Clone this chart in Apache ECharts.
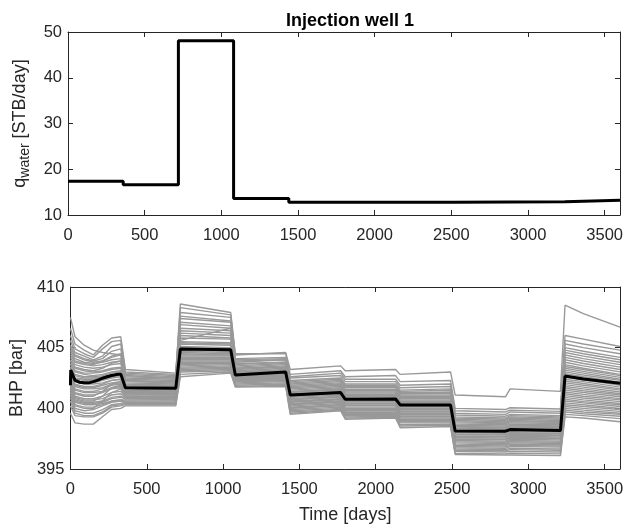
<!DOCTYPE html>
<html>
<head>
<meta charset="utf-8">
<script src="https://cdn.jsdelivr.net/npm/echarts@6.0.0/dist/echarts.min.js"></script>
<style>
  html, body { margin: 0; padding: 0; background: #ffffff; }
  #chart { width: 626px; height: 529px; }
</style>
</head>
<body>
<div id="chart"></div>
<script>
// ---- Water injection rate, one value per 360-day control period ----
const rateDays = [0, 360, 720, 1080, 1440, 1800, 2160, 2520, 2880, 3240, 3600];
const rateValues = [17.4, 16.6, 48.1, 13.6, 12.8, 12.8, 12.8, 12.85, 12.9, 13.25, 13.25];

// ---- Ensemble mean bottom-hole pressure ----
const meanDays = [0, 2, 30, 60, 90, 120, 150, 180, 210, 240, 270, 300, 330, 360, 690, 720, 1050,
  1080, 1410, 1440, 1770, 1800, 2130, 2160, 2490, 2520, 2850, 2880, 3210, 3240, 3360, 3600];
const meanBhp = [401.9, 403.15, 402.3, 402.15, 402.1, 402.1, 402.2, 402.32, 402.48, 402.6, 402.7, 402.78, 402.82,
  401.7, 401.65, 404.88, 404.83, 402.75, 403.0, 401.1, 401.3, 400.75, 400.77, 400.28, 400.28,
  398.14, 398.12, 398.25, 398.17, 402.66, 402.42, 402.06];

// ---- Ensemble members (one row per realisation) for each control period ----
const year1Days = [0, 30, 90, 150, 210, 270, 330];
const year1 = [
  [407.5, 405.9, 405.2, 404.8, 404.6, 404.5, 404.4], [406.6, 405.3, 404.8, 404.4, 405.2, 405.8, 405.9],
  [406.0, 404.9, 404.5, 404.2, 404.9, 405.5, 405.6], [405.6, 404.6, 404.3, 404.0, 404.3, 405.1, 405.3],
  [405.2, 404.4, 404.1, 403.9, 404.1, 404.7, 404.9], [405.0, 404.3, 404.0, 403.8, 403.9, 404.2, 404.4],
  [404.8, 404.1, 403.8, 403.7, 403.8, 404.0, 404.1], [404.6, 403.9, 403.7, 403.6, 403.9, 404.3, 404.5],
  [404.4, 403.8, 403.6, 403.5, 403.6, 403.8, 403.9], [404.2, 403.6, 403.4, 403.3, 403.4, 403.6, 403.7],
  [404.0, 403.4, 403.2, 403.1, 403.3, 403.7, 403.9], [403.9, 403.3, 403.1, 403.0, 403.1, 403.3, 403.4],
  [403.7, 403.1, 402.9, 402.9, 403.0, 403.2, 403.3], [403.6, 403.0, 402.8, 402.7, 402.8, 403.0, 403.1],
  [403.4, 402.8, 402.6, 402.6, 402.7, 402.9, 403.0], [403.3, 402.7, 402.5, 402.5, 402.6, 402.8, 402.9],
  [403.2, 402.5, 402.4, 402.4, 402.5, 402.7, 402.8], [403.1, 402.4, 402.3, 402.3, 402.4, 402.6, 402.7],
  [403.0, 402.3, 402.1, 402.1, 402.3, 402.5, 402.6], [402.9, 402.2, 402.0, 402.0, 402.1, 402.3, 402.4],
  [402.8, 402.0, 401.8, 401.8, 402.0, 402.3, 402.4], [402.7, 401.9, 401.7, 401.7, 401.9, 402.1, 402.2],
  [402.6, 401.8, 401.6, 401.6, 401.7, 402.0, 402.1], [402.5, 401.6, 401.4, 401.4, 401.6, 401.9, 402.0],
  [402.4, 401.5, 401.3, 401.3, 401.4, 401.7, 401.8], [402.3, 401.3, 401.1, 401.1, 401.3, 401.6, 401.7],
  [402.2, 401.2, 401.0, 401.0, 401.4, 402.0, 402.2], [402.1, 401.0, 400.8, 400.8, 401.0, 401.3, 401.4],
  [402.0, 400.9, 400.7, 400.7, 400.8, 401.1, 401.2], [401.9, 400.8, 400.6, 400.6, 401.0, 401.7, 401.9],
  [401.8, 400.7, 400.5, 400.5, 400.6, 400.9, 401.0], [401.7, 400.6, 400.4, 400.4, 400.5, 400.8, 400.9],
  [401.6, 400.5, 400.3, 400.3, 400.4, 400.6, 400.7], [401.4, 400.3, 400.1, 400.1, 400.3, 400.6, 400.7],
  [401.3, 400.2, 400.0, 400.0, 400.6, 401.3, 401.6], [401.1, 400.0, 399.8, 399.9, 400.2, 400.5, 400.6],
  [400.9, 399.8, 399.6, 399.6, 399.9, 400.3, 400.4], [400.6, 399.6, 399.4, 399.4, 399.7, 400.2, 400.3],
  [400.2, 399.4, 399.3, 399.3, 399.6, 400.1, 400.2], [399.6, 398.8, 398.7, 398.7, 399.3, 399.9, 400.0]
];
const year2Days = [360, 690];
const year2 = [
  [402.9, 402.7], [403.2, 402.9], [403.0, 402.8], [402.8, 402.6], [402.6, 402.5], [402.7, 402.5],
  [402.5, 402.4], [402.4, 402.3], [402.3, 402.2], [402.2, 402.1], [402.3, 402.1], [402.1, 402.0],
  [402.0, 401.9], [401.9, 401.9], [401.9, 401.8], [401.8, 401.7], [401.7, 401.7], [401.7, 401.6],
  [401.6, 401.5], [401.5, 401.5], [401.5, 401.4], [401.4, 401.4], [401.3, 401.3], [401.3, 401.2],
  [401.2, 401.2], [401.1, 401.1], [401.4, 401.3], [401.0, 401.0], [400.9, 400.9], [401.2, 401.1],
  [400.8, 400.8], [400.8, 400.7], [400.7, 400.7], [400.6, 400.6], [401.0, 400.9], [400.5, 400.5],
  [400.5, 400.4], [400.4, 400.4], [400.3, 400.3], [400.2, 400.2]
];
const year3Days = [720, 1050];
const year3 = [
  [408.6, 407.9], [408.3, 407.7], [407.9, 407.5], [407.6, 407.2], [407.4, 407.1], [407.1, 406.8],
  [406.9, 406.6], [406.6, 406.4], [406.4, 406.2], [406.2, 406.0], [406.0, 405.8], [405.8, 405.7],
  [405.6, 406.6], [405.5, 405.4], [405.4, 405.3], [405.3, 405.2], [405.1, 405.0], [405.0, 404.9],
  [404.9, 404.8], [404.8, 404.7], [404.7, 404.6], [404.6, 404.5], [404.5, 404.4], [404.4, 404.4],
  [404.3, 404.3], [404.2, 404.2], [404.1, 404.1], [404.0, 404.0], [403.9, 403.9], [403.8, 403.8],
  [403.7, 403.7], [403.6, 403.7], [403.5, 403.6], [403.4, 403.5], [403.3, 403.4], [403.2, 403.3],
  [403.1, 403.2], [403.0, 403.1], [402.8, 403.0], [402.6, 402.9]
];
const year4Days = [1080, 1410];
const year4 = [
  [404.4, 404.6], [404.5, 404.5], [404.1, 404.2], [404.0, 404.1], [403.8, 404.0], [403.9, 404.0],
  [403.6, 403.8], [403.7, 403.8], [403.5, 403.7], [403.4, 403.6], [403.3, 403.5], [403.3, 403.4],
  [403.2, 403.4], [403.1, 403.3], [403.0, 403.2], [403.0, 403.1], [402.9, 403.1], [402.9, 403.0],
  [402.8, 403.0], [402.8, 402.9], [402.7, 402.9], [402.7, 402.8], [402.6, 402.8], [402.6, 402.7],
  [402.5, 402.7], [402.5, 402.6], [402.6, 402.7], [402.4, 402.6], [402.4, 402.5], [402.5, 402.6],
  [402.3, 402.4], [402.3, 402.4], [402.2, 402.3], [402.2, 402.3], [402.4, 402.5], [402.1, 402.2],
  [402.0, 402.1], [401.9, 402.0], [401.8, 401.9], [401.75, 401.8]
];
const year5Days = [1440, 1770];
const year5 = [
  [403.2, 403.5], [402.8, 403.1], [402.6, 402.9], [402.5, 402.7], [402.3, 402.5], [402.2, 402.4],
  [402.1, 402.3], [402.0, 402.2], [401.9, 402.1], [401.8, 402.0], [401.7, 401.9], [401.6, 401.8],
  [401.5, 401.7], [401.4, 401.6], [401.35, 401.55], [401.3, 401.5], [401.2, 401.4], [401.15, 401.35],
  [401.1, 401.3], [401.0, 401.2], [400.95, 401.15], [400.9, 401.1], [400.8, 401.0], [400.75, 400.95],
  [400.7, 400.9], [400.6, 400.8], [400.55, 400.75], [400.5, 400.7], [400.4, 400.6], [400.35, 400.55],
  [400.3, 400.5], [400.2, 400.4], [400.1, 400.3], [400.05, 400.25], [400.0, 400.2], [399.9, 400.1],
  [399.8, 400.0], [399.7, 399.9], [399.6, 399.85], [399.5, 399.8]
];
const year6Days = [1800, 2130];
const year6 = [
  [403.1, 403.2], [402.6, 402.7], [402.4, 402.4], [402.2, 402.2], [402.0, 402.0], [401.9, 401.9],
  [401.8, 401.8], [401.7, 401.7], [401.55, 401.55], [401.45, 401.45], [401.35, 401.35], [401.25, 401.25],
  [401.15, 401.15], [401.05, 401.05], [401.0, 401.0], [400.95, 400.95], [400.85, 400.85], [400.8, 400.8],
  [400.75, 400.75], [400.65, 400.65], [400.6, 400.6], [400.55, 400.55], [400.45, 400.45], [400.4, 400.4],
  [400.35, 400.35], [400.25, 400.25], [400.2, 400.2], [400.1, 400.1], [400.0, 400.0], [399.95, 399.95],
  [399.9, 399.9], [399.8, 399.8], [399.7, 399.7], [399.65, 399.65], [399.6, 399.6], [399.5, 399.5],
  [399.4, 399.45], [399.3, 399.35], [399.2, 399.25], [399.1, 399.2]
];
const year7Days = [2160, 2490];
const year7 = [
  [402.8, 403.0], [402.2, 402.3], [401.9, 402.0], [401.7, 401.8], [401.5, 401.6], [401.4, 401.5],
  [401.3, 401.35], [401.2, 401.25], [401.1, 401.1], [401.0, 401.0], [400.9, 400.9], [400.8, 400.8],
  [400.7, 400.7], [400.6, 400.6], [400.55, 400.55], [400.5, 400.5], [400.4, 400.4], [400.35, 400.35],
  [400.3, 400.3], [400.2, 400.2], [400.15, 400.15], [400.1, 400.1], [400.0, 400.0], [399.9, 399.9],
  [399.85, 399.85], [399.75, 399.75], [399.7, 399.7], [399.6, 399.6], [399.5, 399.5], [399.45, 399.45],
  [399.35, 399.35], [399.3, 399.3], [399.2, 399.2], [399.1, 399.1], [399.0, 399.0], [398.9, 398.9],
  [398.8, 398.8], [398.65, 398.7], [398.55, 398.6], [398.4, 398.5]
];
const year8Days = [2520, 2850];
const year8 = [
  [401.1, 400.95], [400.0, 399.9], [399.8, 399.7], [399.6, 399.5], [399.45, 399.35], [399.3, 399.2],
  [399.2, 399.1], [399.1, 399.0], [399.0, 398.9], [398.9, 398.8], [398.8, 398.75], [398.7, 398.65],
  [398.6, 398.55], [398.5, 398.45], [398.45, 398.4], [398.35, 398.3], [398.3, 398.25], [398.2, 398.15],
  [398.15, 398.1], [398.05, 398.0], [398.0, 397.95], [397.9, 397.85], [397.85, 397.8], [397.75, 397.7],
  [397.7, 397.65], [397.6, 397.55], [397.5, 397.45], [397.45, 397.4], [397.35, 397.3], [397.25, 397.2],
  [397.15, 397.1], [397.05, 397.0], [396.95, 396.9], [396.85, 396.8], [396.75, 396.7], [396.65, 396.6],
  [396.55, 396.5], [396.45, 396.4], [396.3, 396.25], [396.2, 396.15]
];
const year9Days = [2880, 3210];
const year9 = [
  [401.6, 401.4], [400.05, 399.95], [399.85, 399.75], [399.7, 399.6], [399.5, 399.4], [399.4, 399.3],
  [399.3, 399.2], [399.2, 399.1], [399.1, 399.0], [399.0, 398.9], [398.9, 398.85], [398.8, 398.75],
  [398.7, 398.65], [398.6, 398.55], [398.55, 398.5], [398.45, 398.4], [398.4, 398.35], [398.3, 398.25],
  [398.25, 398.2], [398.15, 398.1], [398.1, 398.05], [398.0, 397.95], [397.95, 397.9], [397.85, 397.8],
  [397.8, 397.75], [397.7, 397.65], [397.6, 397.55], [397.55, 397.5], [397.45, 397.4], [397.35, 397.3],
  [397.25, 397.2], [397.15, 397.1], [397.05, 397.0], [396.95, 396.9], [396.85, 396.8], [396.7, 396.65],
  [396.6, 396.55], [396.45, 396.4], [396.3, 396.25], [396.15, 396.1]
];
const year10Days = [3240, 3360, 3600];
const year10 = [
  [408.5, 407.8, 406.7], [406.0, 405.7, 405.1], [405.6, 405.3, 404.8], [405.3, 405.0, 404.5],
  [405.0, 404.7, 404.2], [404.8, 404.5, 404.0], [404.6, 404.3, 403.8], [404.4, 404.1, 403.6],
  [404.2, 403.9, 403.4], [404.0, 403.7, 403.2], [403.8, 403.5, 403.0], [403.6, 403.3, 402.8],
  [403.45, 403.2, 402.7], [403.3, 403.05, 402.55], [403.15, 402.9, 402.4], [403.0, 402.75, 402.3],
  [402.85, 402.6, 402.15], [402.7, 402.5, 402.0], [402.55, 402.35, 401.9], [402.4, 402.2, 401.75],
  [402.25, 402.05, 401.6], [402.1, 401.9, 401.5], [401.95, 401.75, 401.35], [401.8, 401.6, 401.2],
  [401.65, 401.45, 401.1], [401.5, 401.3, 400.95], [401.35, 401.15, 400.8], [401.2, 401.0, 400.7],
  [401.05, 400.85, 400.55], [400.9, 400.7, 400.4], [400.75, 400.55, 400.3], [400.6, 400.45, 400.15],
  [400.45, 400.3, 400.0], [400.3, 400.15, 399.9], [400.15, 400.0, 399.75], [400.0, 399.85, 399.6],
  [399.85, 399.7, 399.5], [399.7, 399.55, 399.35], [399.5, 399.4, 399.15], [399.3, 399.2, 398.9]
];

// Axis ticks
const timeTicks = { min: 0, max: 3600, step: 500 };
const rateTicks = { min: 10, max: 50, step: 10 };
const bhpTicks = { min: 395, max: 410, step: 5 };

// ---- Build the chart ----
const FONT = "'Liberation Sans', Arial, Helvetica, sans-serif";
const INK = '#262626';

const periods = [
  [year1Days, year1], [year2Days, year2], [year3Days, year3], [year4Days, year4], [year5Days, year5],
  [year6Days, year6], [year7Days, year7], [year8Days, year8], [year9Days, year9], [year10Days, year10]
];

const series = [];

series.push({
  type: 'line', xAxisIndex: 0, yAxisIndex: 0, step: 'end', symbol: 'none', silent: true,
  lineStyle: { color: '#000000', width: 3 },
  data: rateDays.map((d, i) => [d, rateValues[i]])
});

for (let m = 0; m < year1.length; m++) {
  const pts = [];
  periods.forEach(([ds, rows]) => ds.forEach((d, j) => pts.push([d, rows[m][j]])));
  series.push({
    type: 'line', xAxisIndex: 2, yAxisIndex: 2, symbol: 'none', silent: true, z: 2,
    lineStyle: { color: '#999999', width: 1.4 },
    data: pts
  });
}

series.push({
  type: 'line', xAxisIndex: 2, yAxisIndex: 2, symbol: 'none', silent: true, z: 5,
  lineStyle: { color: '#000000', width: 3 },
  data: meanDays.map((d, i) => [d, meanBhp[i]])
});

const labelStyle = { color: INK, fontFamily: FONT, fontSize: 16.5, formatter: v => String(v) };
const lineStyle = { show: true, onZero: false, lineStyle: { color: INK, width: 1 } };
const tickStyle = { show: true, inside: true, length: 5, lineStyle: { color: INK, width: 1 } };

function xAxisPair(gridIndex, ticks, extra) {
  const base = {
    gridIndex, type: 'value', min: ticks.min, max: ticks.max, interval: ticks.step,
    splitLine: { show: false }, axisLine: lineStyle, axisTick: tickStyle
  };
  return [
    Object.assign({}, base, {
      position: 'bottom',
      axisLabel: Object.assign({ margin: 12, showMaxLabel: false }, labelStyle)
    }, extra || {}),
    Object.assign({}, base, { position: 'top', axisLabel: { show: false } })
  ];
}
function yAxisPair(gridIndex, ticks, extra) {
  const base = {
    gridIndex, type: 'value', min: ticks.min, max: ticks.max, interval: ticks.step,
    splitLine: { show: false }, axisLine: lineStyle, axisTick: tickStyle
  };
  return [
    Object.assign({}, base, {
      position: 'left',
      axisLabel: Object.assign({ margin: 6 }, labelStyle)
    }, extra || {}),
    Object.assign({}, base, { position: 'right', axisLabel: { show: false } })
  ];
}

const option = {
  animation: false,
  backgroundColor: '#ffffff',
  title: {
    text: 'Injection well 1', left: 345, top: 7, textAlign: 'center',
    textStyle: { color: '#000000', fontFamily: FONT, fontSize: 18, fontWeight: 'bold' }
  },
  grid: [
    { left: 68, top: 32, width: 555, height: 183 },
    { left: 68, top: 287, width: 555, height: 182 }
  ],
  xAxis: [
    ...xAxisPair(0, timeTicks),
    ...xAxisPair(1, timeTicks, {
      name: 'Time [days]', nameLocation: 'middle', nameGap: 37,
      nameTextStyle: { color: INK, fontFamily: FONT, fontSize: 18 }
    })
  ],
  yAxis: [
    ...yAxisPair(0, rateTicks, {
      name: '{b|q}{s|water}{b| [STB/day]}', nameLocation: 'middle', nameGap: 36,
      nameTextStyle: {
        color: INK, fontFamily: FONT,
        rich: {
          b: { color: INK, fontFamily: FONT, fontSize: 18, lineHeight: 24 },
          s: { color: INK, fontFamily: FONT, fontSize: 14, verticalAlign: 'bottom', lineHeight: 16 }
        }
      }
    }),
    ...yAxisPair(1, bhpTicks, {
      name: 'BHP [bar]', nameLocation: 'middle', nameGap: 40,
      nameTextStyle: { color: INK, fontFamily: FONT, fontSize: 18 }
    })
  ],
  series
};

const chart = echarts.init(document.getElementById('chart'), null, { renderer: 'canvas' });
chart.setOption(option);
</script>
</body>
</html>
